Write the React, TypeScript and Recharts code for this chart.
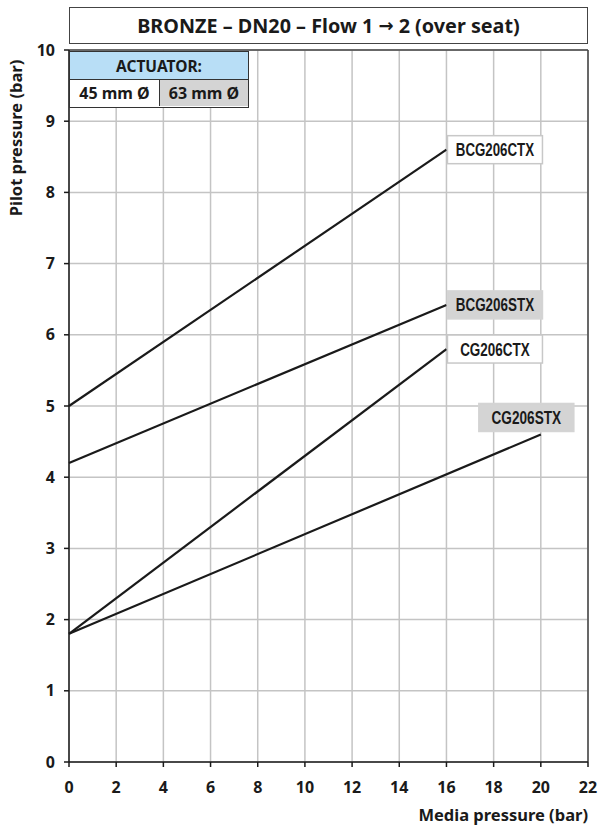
import React from 'react';
import { LineChart, Line, XAxis, YAxis, CartesianGrid, ReferenceLine } from 'recharts';

// values
const seriesNames = ['BCG206CTX', 'BCG206STX', 'CG206CTX', 'CG206STX'];
const startMedia = [0, 0, 0, 0];
const startPilot = [5.0, 4.2, 1.8, 1.8];
const endMedia = [16, 16, 16, 20];
const endPilot = [8.6, 6.42, 5.8, 4.6];
const actuatorOf = ['45 mm Ø', '63 mm Ø', '45 mm Ø', '63 mm Ø'];
const actuatorSizes = ['45 mm Ø', '63 mm Ø'];

const xTicks = [0, 2, 4, 6, 8, 10, 12, 14, 16, 18, 20, 22];
const yTicks = [0, 1, 2, 3, 4, 5, 6, 7, 8, 9, 10];

const FONT = '"Noto Sans", "Open Sans", sans-serif';
const TAG_FONT = '"Liberation Sans", Arial, sans-serif';
const GRAY = '#d4d4d4';
const BLUE = '#b8def6';

const series = seriesNames.map((name, i) => ({
  name,
  fill: actuatorOf[i] === actuatorSizes[1] ? GRAY : '#ffffff',
  // last tag sits above-left of its line end
  dx: i === 3 ? -62 : 1,
  dy: i === 3 ? -31 : -14,
  data: [
    { x: startMedia[i], y: startPilot[i] },
    { x: endMedia[i], y: endPilot[i] },
  ],
}));

const renderTag = (s: any) => (props: any) => {
  const { x, y, index } = props;
  if (index !== s.data.length - 1) return null;
  const w = 95;
  const h = 28;
  const tw = s.name.length * 8.7;
  return (
    <g key={`tag-${s.name}`}>
      <rect
        x={x + s.dx}
        y={y + s.dy}
        width={w}
        height={h}
        fill={s.fill}
        stroke={s.fill === GRAY ? GRAY : '#c8c8c8'}
        strokeWidth={1.5}
      />
      <text
        x={x + s.dx + (w - tw) / 2}
        y={y + s.dy + h / 2 + 6.5}
        textLength={tw}
        lengthAdjust="spacingAndGlyphs"
        fontFamily={TAG_FONT}
        fontWeight="bold"
        fontSize={18.5}
        fill="#1a1a1a"
      >
        {s.name}
      </text>
    </g>
  );
};

const YTitle = ({ viewBox }: any) => (
  <text
    x={15}
    y={viewBox.y + 88}
    transform={`rotate(-90, 15, ${viewBox.y + 88})`}
    textAnchor="middle"
    dominantBaseline="central"
    fontFamily={FONT}
    fontWeight="bold"
    fontSize={16.5}
    fill="#1a1a1a"
  >
    Pilot pressure (bar)
  </text>
);

const XTitle = ({ viewBox }: any) => (
  <text
    x={viewBox.x + viewBox.width}
    y={viewBox.y + 59}
    textAnchor="end"
    fontFamily={FONT}
    fontWeight="bold"
    fontSize={16.5}
    fill="#1a1a1a"
  >
    Media pressure (bar)
  </text>
);

const tickStyle = { fontFamily: FONT, fontWeight: 'bold' as const, fontSize: 16, fill: '#1a1a1a' };

const cell: React.CSSProperties = {
  boxSizing: 'border-box',
  display: 'flex',
  alignItems: 'center',
  justifyContent: 'center',
  fontFamily: FONT,
  fontWeight: 'bold',
  fontSize: 15.5,
  color: '#1a1a1a',
};

const App = () => {
  return (
    <div style={{ position: 'absolute', left: 0, top: 0, width: 603, height: 828, background: '#fff' }}>
      <LineChart width={603} height={828} margin={{ top: 50, right: 15, left: 0, bottom: 0 }}>
        <CartesianGrid stroke="#c4c4c4" strokeWidth={1.5} />
        <XAxis
          type="number"
          dataKey="x"
          domain={[0, 22]}
          ticks={xTicks}
          height={66}
          tickSize={5}
          tickMargin={15}
          tick={tickStyle}
          stroke="#1a1a1a"
          strokeWidth={1.5}
          allowDuplicatedCategory={false}
          label={<XTitle />}
        />
        <YAxis
          type="number"
          dataKey="y"
          domain={[0, 10]}
          ticks={yTicks}
          width={69}
          tickSize={5}
          tickMargin={9}
          tick={tickStyle}
          stroke="#1a1a1a"
          strokeWidth={1.5}
          label={<YTitle />}
        />
        <ReferenceLine y={10} stroke="#444" strokeWidth={1.5} />
        <ReferenceLine x={22} stroke="#444" strokeWidth={1.5} />
        {series.map((s) => (
          <Line
            key={s.name}
            data={s.data}
            dataKey="y"
            name={s.name}
            stroke="#1a1a1a"
            strokeWidth={2.2}
            dot={false}
            activeDot={false}
            isAnimationActive={false}
            label={renderTag(s)}
          />
        ))}
      </LineChart>

      <div
        style={{
          ...cell,
          position: 'absolute',
          left: 69,
          top: 7,
          width: 519,
          height: 37,
          border: '1.5px solid #444',
          background: '#fff',
          fontSize: 19.8,
        }}
      >
        BRONZE – DN20 – Flow 1&nbsp;<span style={{ fontFamily: '"DejaVu Sans", sans-serif', fontSize: 18 }}>→</span>&nbsp;2 (over seat)
      </div>

      <div
        style={{
          position: 'absolute',
          left: 69,
          top: 51,
          width: 180,
          height: 57,
          border: '1.5px solid #333',
          boxSizing: 'border-box',
          background: '#fff',
        }}
      >
        <div style={{ ...cell, height: 28, background: BLUE, borderBottom: '1.5px solid #333' }}>ACTUATOR:</div>
        <div style={{ display: 'flex', height: 26 }}>
          <div style={{ ...cell, width: 90, background: '#fff', borderRight: '1.5px solid #333', fontSize: 16 }}>
            {actuatorSizes[0]}
          </div>
          <div style={{ ...cell, flex: 1, background: GRAY, fontSize: 16 }}>{actuatorSizes[1]}</div>
        </div>
      </div>
    </div>
  );
};

export default App;
